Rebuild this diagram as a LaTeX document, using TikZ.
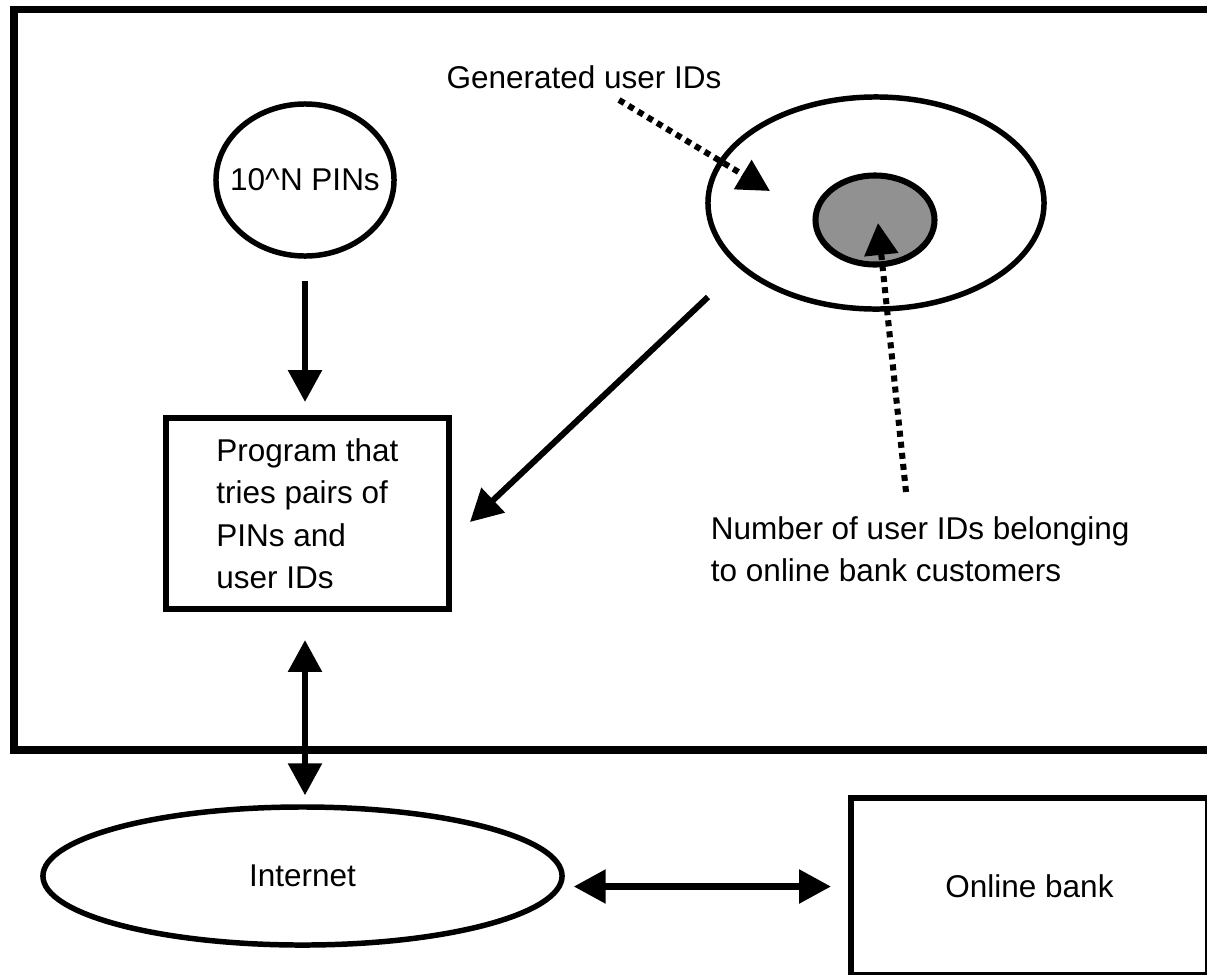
\documentclass[tikz,border=0pt]{standalone}
\usepackage{fontspec}
\setmainfont{Liberation Sans}
\usetikzlibrary{shapes.geometric,arrows.meta}
\definecolor{custgray}{HTML}{919191}

\begin{document}
\begin{tikzpicture}[x=0.025cm, y=-0.025cm, % one unit is one pixel of the drawing
    font=\fontsize{22.4}{30.2}\selectfont,
    >={Triangle[length=22.7pt, width=23.4pt]},
    bubble/.style={ellipse, draw, line width=3.9pt, inner sep=0pt},
    boxed/.style={rectangle, draw, line width=4.3pt},
    link/.style={line width=4.3pt},
    hint/.style={line width=4.3pt, dash pattern=on 4.3pt off 3.6pt} % square dots
%    ,every node/.style={draw=red}
   ]
    \useasboundingbox (0,0) rectangle (1207,974);
    \draw[line width=5pt] (14,9.5) rectangle (1240,750);

    \node[bubble, minimum width=4.45cm, minimum height=3.8cm,
          label=center:{10\textasciicircum N PINs}] (pins) at (305,180) {};
    \node[bubble, minimum width=8.4cm, minimum height=5.3cm] (ids) at (876,203) {};
    \node[bubble, fill=custgray, line width=4.3pt, minimum width=2.975cm, minimum height=2.225cm] (cust) at (875,220) {};
    \node[boxed, minimum width=7.075cm, minimum height=4.775cm, align=left] (prog) at (307.5,513.5)
        {Program that\\tries pairs of\\PINs and\\user IDs};
    \node[bubble, minimum width=12.975cm, minimum height=3.45cm] (net) at (302.5,876) {Internet};
    \node[boxed, minimum width=8.925cm, minimum height=4.425cm] (bank) at (1029.5,886.5) {Online bank};

    \node (gen) at (584,77) {Generated user IDs};
    \node[align=left, anchor=west] (num) at (706,549) {Number of user IDs belonging\\to online bank customers};

    % loose ends of the pointers
    \coordinate (genfoot) at (619,100);
    \coordinate (genhead) at (770,191);
    \coordinate (numfoot) at (906,492);
    \coordinate (custhead) at (878,223);
    \coordinate (idsfoot) at (708,297);
    \coordinate (progside) at (470,522);

    \draw[link, ->, shorten <=0.55cm, shorten >=0.325cm] (pins.south) -- (prog.north -| pins.south);
    \draw[link, ->] (idsfoot) -- (progside);
    \draw[link, <->, shorten <=0.7cm, shorten >=0.225cm] (prog.south -| pins.south) -- (net.north -| pins.south);
    \draw[link, <->, shorten <=0.225cm, shorten >=0.425cm] (net.east |- bank.west) -- (bank.west);
    \draw[hint, ->] (genfoot) -- (genhead);
    \draw[hint, ->] (numfoot) -- (custhead);
  \end{tikzpicture}
\end{document}
